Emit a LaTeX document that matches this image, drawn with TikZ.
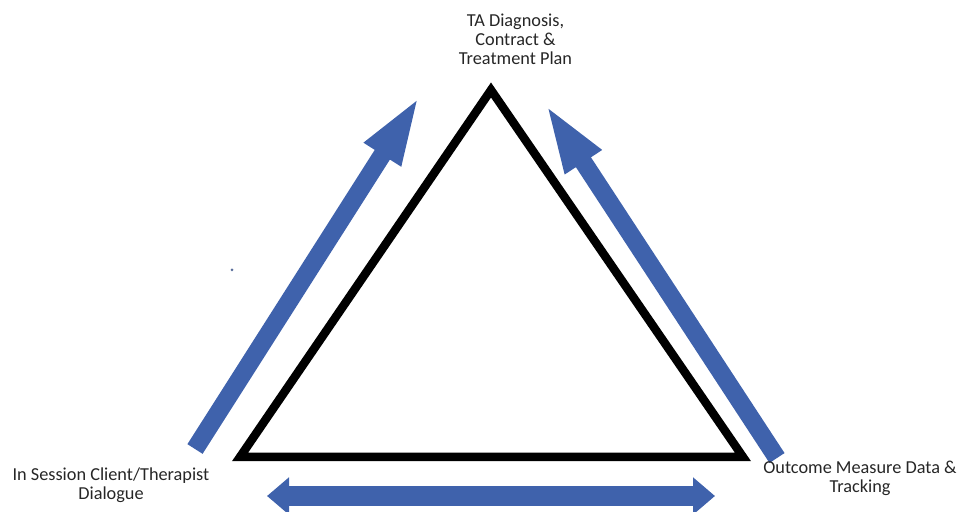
\documentclass[tikz,border=0pt]{standalone}
\usepackage{tkz-euclide}
\usepackage{fontspec}
\setmainfont{Carlito}
\usetikzlibrary{arrows.meta}
\definecolor{flowblue}{RGB}{63,98,172}
\tikzset{
    flowarrow/.style={line width=0.36cm, line cap=butt, flowblue, -{Triangle[length=1.44cm, width=0.76cm]}},
    loopbar/.style={line width=0.40cm, line cap=butt, flowblue, {Triangle[length=0.44cm, width=0.72cm]}-{Triangle[length=0.44cm, width=0.72cm]}},
    steplabel/.style={align=center, font=\fontsize{10.4}{10.7}\selectfont, text=black!85}
}

\begin{document}
\begin{tikzpicture}
    \useasboundingbox (0,0) rectangle (19.2,10.22);
    \tkzDefPoints{9.82/8.42/T, 4.80/1.08/S, 14.86/1.08/M}
    \tkzDefPoints{3.90/1.24/A, 8.42/8.34/B, 15.54/1.06/C, 10.88/8.18/D}
    \tkzDefPoints{14.30/0.30/E, 5.34/0.30/F}
    \tkzDrawPolygon[line width=0.17cm, line cap=butt, line join=miter](T,S,M)
    \tkzDrawSegment[flowarrow](A,B)
    \tkzDrawSegment[flowarrow](C,D)
    \tkzDrawSegment[loopbar](F,E)
    \fill[flowblue!60!gray] (4.64,4.82) circle (0.03);
    \node[steplabel] (plan) at (10.31,9.44) {TA Diagnosis,\\Contract \&\\Treatment Plan};
    \node[steplabel] (dialogue) at (2.22,0.52) {In Session Client/Therapist\\Dialogue};
    \node[steplabel] (outcome) at (17.20,0.66) {Outcome Measure Data \&\\Tracking};
\end{tikzpicture}
\end{document}
